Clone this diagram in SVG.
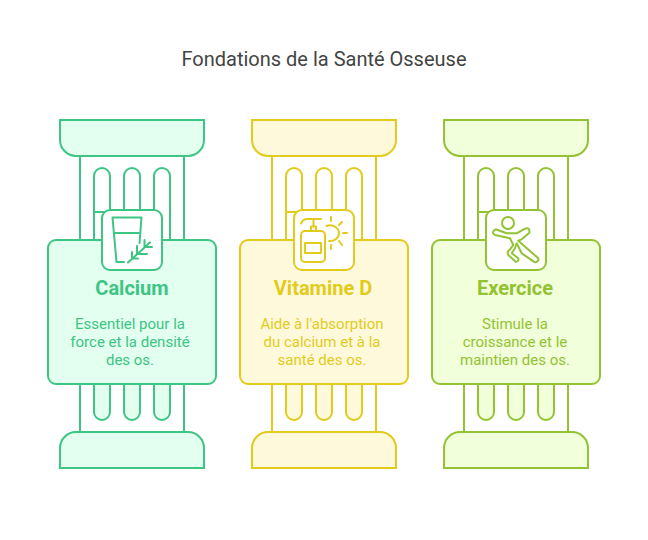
<svg xmlns="http://www.w3.org/2000/svg" width="648" height="540" viewBox="0 0 648 540">
<style>
text{font-family:Roboto,"Liberation Sans",sans-serif;text-anchor:middle}
.title{font-size:20px;fill:#444}
.head{font-size:20px;font-weight:700;fill:var(--c)}
.desc{font-size:15px;fill:var(--c)}
.ln{fill:none;stroke:var(--c);stroke-width:2;stroke-linecap:round;stroke-linejoin:round}
.w{fill:#fff;stroke:var(--c);stroke-width:2}
.t{fill:var(--f);stroke:var(--c);stroke-width:2}
.g{--c:#3cc583;--f:#e3fff0}
.y{--c:#e2cb1b;--f:#fff9db}
.l{--c:#93c332;--f:#f1ffdb}
</style>
<defs>
<g id="col">
<rect class="w" x="80" y="156" width="104" height="84"/>
<path class="w" d="M94 240V176a8 8 0 0 1 16 0V212H94ZM124 212V176a8 8 0 0 1 16 0V212ZM154 240V176a8 8 0 0 1 16 0V240Z"/>
<path class="t" d="M60 120H204V140a16 16 0 0 1-16 16H76a16 16 0 0 1-16-16Z"/>
<rect class="w" x="80" y="384" width="104" height="48"/>
<path class="t" d="M94 384V412a8 8 0 0 0 16 0V384M124 384V412a8 8 0 0 0 16 0V384M154 384V412a8 8 0 0 0 16 0V384"/>
<path class="t" d="M60 468H204V448a16 16 0 0 0-16-16H76a16 16 0 0 0-16 16Z"/>
<rect class="t" x="48" y="240" width="168" height="144" rx="8"/>
<rect class="w" x="102" y="210" width="60" height="60" rx="8"/>
</g>
</defs>
<text class="title" x="324" y="66">Fondations de la Santé Osseuse</text>
<g id="connectors"/>
<g id="calcium" class="g">
<use href="#col"/>
<path class="ln" d="M112.500 217.500H141.500L139.500 243M112.500 217.500L116.500 262H124M114 233H140M128 262.500L150 242.500M132 252V258.500H138M137 246V254H147M144.500 240V247H152"/>
<text class="head" x="132" y="295">Calcium</text>
<text class="desc"><tspan x="130" y="329">Essentiel pour la</tspan><tspan x="130" y="347">force et la densité</tspan><tspan x="130" y="365">des os.</tspan></text>
</g>
<g id="vitamine-d" class="y" transform="translate(192 0)">
<use href="#col"/>
<g transform="translate(-192 0)">
<rect class="ln" x="301" y="231" width="24" height="31" rx="4"/>
<rect class="ln" x="305" y="243" width="16" height="10"/>
<path class="ln" d="M311 231V226.500H316V231M313.500 226.500V219M301 223.500Q303 219 307 219H321M326.500 226A9 8 0 0 1 339 233A9 8 0 0 1 329 241M331 217V221M331 245V249M342 222L339 225M339 241L342 245M343 233H347"/>
</g>
<text class="head" x="131" y="295">Vitamine D</text>
<text class="desc"><tspan x="130" y="329">Aide à l'absorption</tspan><tspan x="130" y="347">du calcium et à la</tspan><tspan x="130" y="365">santé des os.</tspan></text>
</g>
<g id="exercice" class="l" transform="translate(384 0)">
<use href="#col"/>
<g transform="translate(-384 0)">
<circle class="ln" cx="508" cy="223" r="6"/>
<path class="ln" d="M495.700 229.300L506.700 233.300H516.700L525 228.700Q530 227 529.300 232.700L521.700 239.300L518.300 240.700L538.300 258.300Q539 262 535 262.300L521.700 253.300L516.700 243.300L515 248.300L511.700 253.300L518.300 258.300Q519 262 515.700 261.700L508.300 255Q506.500 252 510 249.300L513.300 245L510 238.300L495 235Q490.500 232 495.700 229.300Z"/>
</g>
<text class="head" x="131" y="295">Exercice</text>
<text class="desc"><tspan x="131" y="329">Stimule la</tspan><tspan x="131" y="347">croissance et le</tspan><tspan x="131" y="365">maintien des os.</tspan></text>
</g>
</svg>
